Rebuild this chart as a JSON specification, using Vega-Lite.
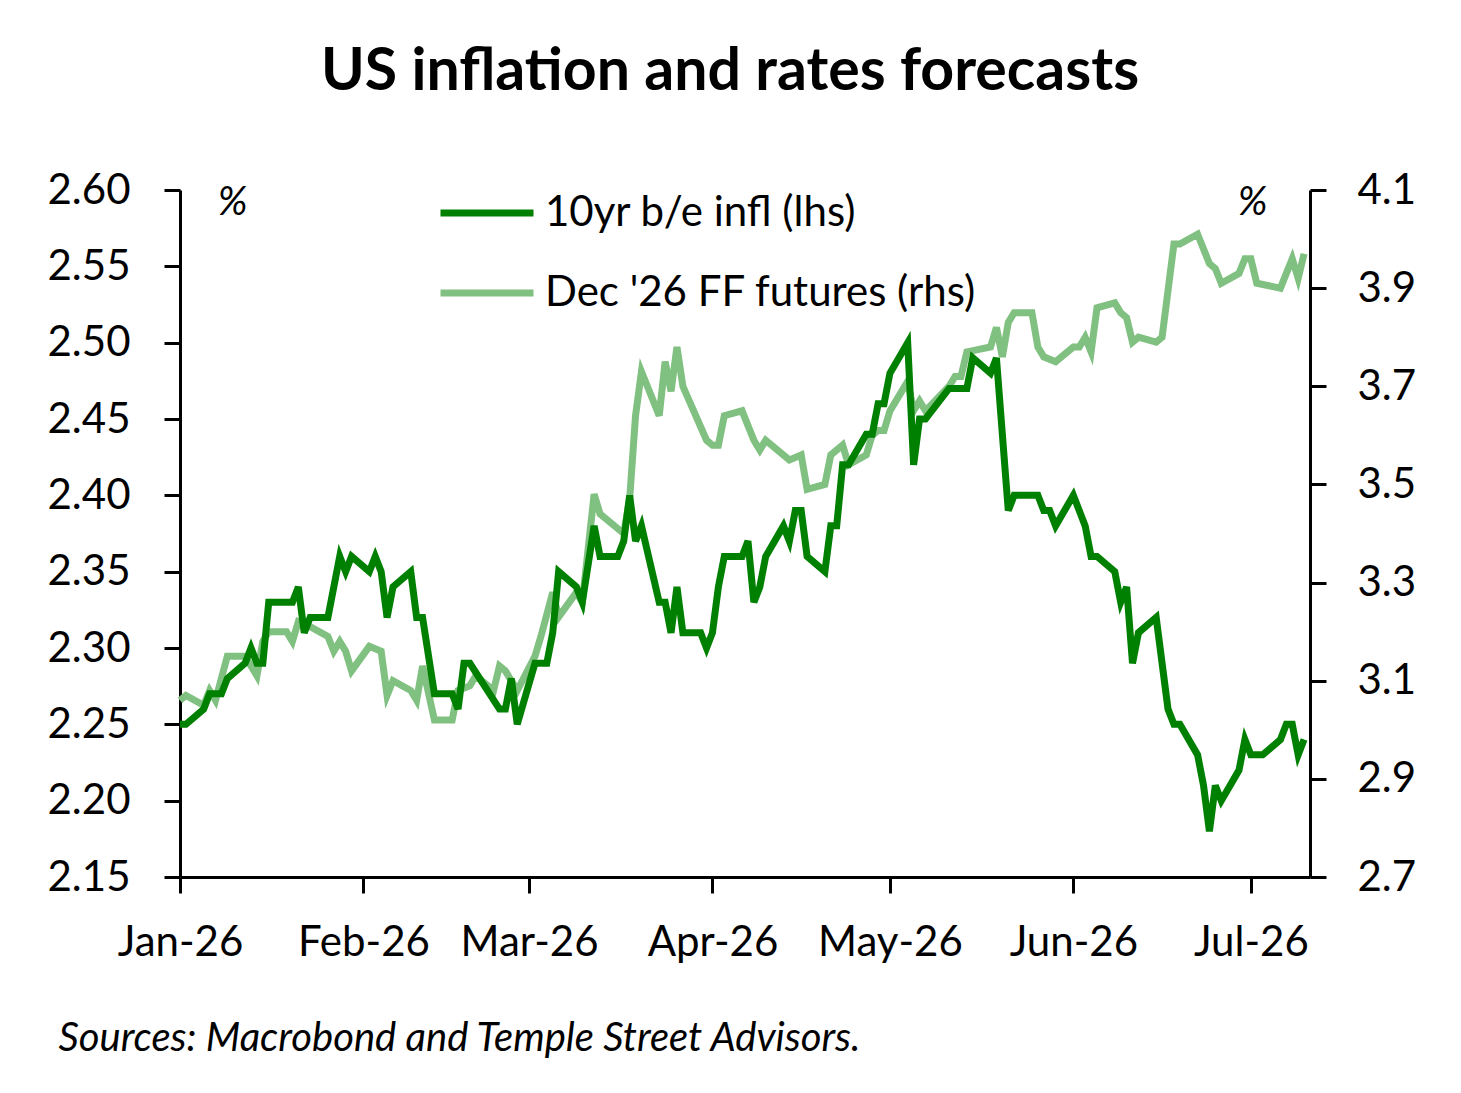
{
  "$schema": "https://vega.github.io/schema/vega-lite/v6.json",
  "width": 1130,
  "height": 687,
  "autosize": {"type": "none"},
  "padding": {"left": 180, "top": 190, "right": 151, "bottom": 216},
  "background": "white",
  "config": {
    "view": {"stroke": null},
    "font": "Lato",
    "axis": {
      "grid": false,
      "domainColor": "black",
      "domainWidth": 3,
      "tickColor": "black",
      "tickWidth": 3,
      "tickSize": 16,
      "labelFont": "Lato",
      "labelFontSize": 42,
      "labelColor": "black",
      "titleFont": "Lato",
      "titleColor": "black"
    }
  },
  "title": {
    "text": "US inflation and rates forecasts",
    "font": "Lato",
    "fontSize": 59,
    "fontWeight": "bold",
    "color": "black",
    "anchor": "middle",
    "frame": "group",
    "baseline": "alphabetic",
    "offset": 14,
    "dx": -15
  },
  "datasets": {
    "be": [
      {"date": "2026-01-01", "series": "10yr b/e infl (lhs)", "value": 2.25},
      {"date": "2026-01-02", "series": "10yr b/e infl (lhs)", "value": 2.25},
      {"date": "2026-01-05", "series": "10yr b/e infl (lhs)", "value": 2.26},
      {"date": "2026-01-06", "series": "10yr b/e infl (lhs)", "value": 2.27},
      {"date": "2026-01-08", "series": "10yr b/e infl (lhs)", "value": 2.27},
      {"date": "2026-01-09", "series": "10yr b/e infl (lhs)", "value": 2.28},
      {"date": "2026-01-12", "series": "10yr b/e infl (lhs)", "value": 2.29},
      {"date": "2026-01-13", "series": "10yr b/e infl (lhs)", "value": 2.30},
      {"date": "2026-01-14", "series": "10yr b/e infl (lhs)", "value": 2.29},
      {"date": "2026-01-15", "series": "10yr b/e infl (lhs)", "value": 2.29},
      {"date": "2026-01-16", "series": "10yr b/e infl (lhs)", "value": 2.33},
      {"date": "2026-01-20", "series": "10yr b/e infl (lhs)", "value": 2.33},
      {"date": "2026-01-21", "series": "10yr b/e infl (lhs)", "value": 2.34},
      {"date": "2026-01-22", "series": "10yr b/e infl (lhs)", "value": 2.31},
      {"date": "2026-01-23", "series": "10yr b/e infl (lhs)", "value": 2.32},
      {"date": "2026-01-26", "series": "10yr b/e infl (lhs)", "value": 2.32},
      {"date": "2026-01-28", "series": "10yr b/e infl (lhs)", "value": 2.36},
      {"date": "2026-01-29", "series": "10yr b/e infl (lhs)", "value": 2.35},
      {"date": "2026-01-30", "series": "10yr b/e infl (lhs)", "value": 2.36},
      {"date": "2026-02-02", "series": "10yr b/e infl (lhs)", "value": 2.35},
      {"date": "2026-02-03", "series": "10yr b/e infl (lhs)", "value": 2.36},
      {"date": "2026-02-04", "series": "10yr b/e infl (lhs)", "value": 2.35},
      {"date": "2026-02-05", "series": "10yr b/e infl (lhs)", "value": 2.32},
      {"date": "2026-02-06", "series": "10yr b/e infl (lhs)", "value": 2.34},
      {"date": "2026-02-09", "series": "10yr b/e infl (lhs)", "value": 2.35},
      {"date": "2026-02-10", "series": "10yr b/e infl (lhs)", "value": 2.32},
      {"date": "2026-02-11", "series": "10yr b/e infl (lhs)", "value": 2.32},
      {"date": "2026-02-13", "series": "10yr b/e infl (lhs)", "value": 2.27},
      {"date": "2026-02-16", "series": "10yr b/e infl (lhs)", "value": 2.27},
      {"date": "2026-02-17", "series": "10yr b/e infl (lhs)", "value": 2.26},
      {"date": "2026-02-18", "series": "10yr b/e infl (lhs)", "value": 2.29},
      {"date": "2026-02-19", "series": "10yr b/e infl (lhs)", "value": 2.29},
      {"date": "2026-02-24", "series": "10yr b/e infl (lhs)", "value": 2.26},
      {"date": "2026-02-25", "series": "10yr b/e infl (lhs)", "value": 2.26},
      {"date": "2026-02-26", "series": "10yr b/e infl (lhs)", "value": 2.28},
      {"date": "2026-02-27", "series": "10yr b/e infl (lhs)", "value": 2.25},
      {"date": "2026-03-02", "series": "10yr b/e infl (lhs)", "value": 2.29},
      {"date": "2026-03-04", "series": "10yr b/e infl (lhs)", "value": 2.29},
      {"date": "2026-03-05", "series": "10yr b/e infl (lhs)", "value": 2.31},
      {"date": "2026-03-06", "series": "10yr b/e infl (lhs)", "value": 2.35},
      {"date": "2026-03-09", "series": "10yr b/e infl (lhs)", "value": 2.34},
      {"date": "2026-03-10", "series": "10yr b/e infl (lhs)", "value": 2.33},
      {"date": "2026-03-12", "series": "10yr b/e infl (lhs)", "value": 2.38},
      {"date": "2026-03-13", "series": "10yr b/e infl (lhs)", "value": 2.36},
      {"date": "2026-03-16", "series": "10yr b/e infl (lhs)", "value": 2.36},
      {"date": "2026-03-17", "series": "10yr b/e infl (lhs)", "value": 2.37},
      {"date": "2026-03-18", "series": "10yr b/e infl (lhs)", "value": 2.40},
      {"date": "2026-03-19", "series": "10yr b/e infl (lhs)", "value": 2.37},
      {"date": "2026-03-20", "series": "10yr b/e infl (lhs)", "value": 2.38},
      {"date": "2026-03-23", "series": "10yr b/e infl (lhs)", "value": 2.33},
      {"date": "2026-03-24", "series": "10yr b/e infl (lhs)", "value": 2.33},
      {"date": "2026-03-25", "series": "10yr b/e infl (lhs)", "value": 2.31},
      {"date": "2026-03-26", "series": "10yr b/e infl (lhs)", "value": 2.34},
      {"date": "2026-03-27", "series": "10yr b/e infl (lhs)", "value": 2.31},
      {"date": "2026-03-30", "series": "10yr b/e infl (lhs)", "value": 2.31},
      {"date": "2026-03-31", "series": "10yr b/e infl (lhs)", "value": 2.30},
      {"date": "2026-04-01", "series": "10yr b/e infl (lhs)", "value": 2.31},
      {"date": "2026-04-02", "series": "10yr b/e infl (lhs)", "value": 2.34},
      {"date": "2026-04-03", "series": "10yr b/e infl (lhs)", "value": 2.36},
      {"date": "2026-04-06", "series": "10yr b/e infl (lhs)", "value": 2.36},
      {"date": "2026-04-07", "series": "10yr b/e infl (lhs)", "value": 2.37},
      {"date": "2026-04-08", "series": "10yr b/e infl (lhs)", "value": 2.33},
      {"date": "2026-04-09", "series": "10yr b/e infl (lhs)", "value": 2.34},
      {"date": "2026-04-10", "series": "10yr b/e infl (lhs)", "value": 2.36},
      {"date": "2026-04-13", "series": "10yr b/e infl (lhs)", "value": 2.38},
      {"date": "2026-04-14", "series": "10yr b/e infl (lhs)", "value": 2.37},
      {"date": "2026-04-15", "series": "10yr b/e infl (lhs)", "value": 2.39},
      {"date": "2026-04-16", "series": "10yr b/e infl (lhs)", "value": 2.39},
      {"date": "2026-04-17", "series": "10yr b/e infl (lhs)", "value": 2.36},
      {"date": "2026-04-20", "series": "10yr b/e infl (lhs)", "value": 2.35},
      {"date": "2026-04-21", "series": "10yr b/e infl (lhs)", "value": 2.38},
      {"date": "2026-04-22", "series": "10yr b/e infl (lhs)", "value": 2.38},
      {"date": "2026-04-23", "series": "10yr b/e infl (lhs)", "value": 2.42},
      {"date": "2026-04-24", "series": "10yr b/e infl (lhs)", "value": 2.42},
      {"date": "2026-04-27", "series": "10yr b/e infl (lhs)", "value": 2.44},
      {"date": "2026-04-28", "series": "10yr b/e infl (lhs)", "value": 2.44},
      {"date": "2026-04-29", "series": "10yr b/e infl (lhs)", "value": 2.46},
      {"date": "2026-04-30", "series": "10yr b/e infl (lhs)", "value": 2.46},
      {"date": "2026-05-01", "series": "10yr b/e infl (lhs)", "value": 2.48},
      {"date": "2026-05-04", "series": "10yr b/e infl (lhs)", "value": 2.50},
      {"date": "2026-05-05", "series": "10yr b/e infl (lhs)", "value": 2.42},
      {"date": "2026-05-06", "series": "10yr b/e infl (lhs)", "value": 2.45},
      {"date": "2026-05-07", "series": "10yr b/e infl (lhs)", "value": 2.45},
      {"date": "2026-05-11", "series": "10yr b/e infl (lhs)", "value": 2.47},
      {"date": "2026-05-14", "series": "10yr b/e infl (lhs)", "value": 2.47},
      {"date": "2026-05-15", "series": "10yr b/e infl (lhs)", "value": 2.49},
      {"date": "2026-05-18", "series": "10yr b/e infl (lhs)", "value": 2.48},
      {"date": "2026-05-19", "series": "10yr b/e infl (lhs)", "value": 2.49},
      {"date": "2026-05-21", "series": "10yr b/e infl (lhs)", "value": 2.39},
      {"date": "2026-05-22", "series": "10yr b/e infl (lhs)", "value": 2.40},
      {"date": "2026-05-26", "series": "10yr b/e infl (lhs)", "value": 2.40},
      {"date": "2026-05-27", "series": "10yr b/e infl (lhs)", "value": 2.39},
      {"date": "2026-05-28", "series": "10yr b/e infl (lhs)", "value": 2.39},
      {"date": "2026-05-29", "series": "10yr b/e infl (lhs)", "value": 2.38},
      {"date": "2026-06-01", "series": "10yr b/e infl (lhs)", "value": 2.40},
      {"date": "2026-06-03", "series": "10yr b/e infl (lhs)", "value": 2.38},
      {"date": "2026-06-04", "series": "10yr b/e infl (lhs)", "value": 2.36},
      {"date": "2026-06-05", "series": "10yr b/e infl (lhs)", "value": 2.36},
      {"date": "2026-06-08", "series": "10yr b/e infl (lhs)", "value": 2.35},
      {"date": "2026-06-09", "series": "10yr b/e infl (lhs)", "value": 2.33},
      {"date": "2026-06-10", "series": "10yr b/e infl (lhs)", "value": 2.34},
      {"date": "2026-06-11", "series": "10yr b/e infl (lhs)", "value": 2.29},
      {"date": "2026-06-12", "series": "10yr b/e infl (lhs)", "value": 2.31},
      {"date": "2026-06-15", "series": "10yr b/e infl (lhs)", "value": 2.32},
      {"date": "2026-06-17", "series": "10yr b/e infl (lhs)", "value": 2.26},
      {"date": "2026-06-18", "series": "10yr b/e infl (lhs)", "value": 2.25},
      {"date": "2026-06-19", "series": "10yr b/e infl (lhs)", "value": 2.25},
      {"date": "2026-06-22", "series": "10yr b/e infl (lhs)", "value": 2.23},
      {"date": "2026-06-23", "series": "10yr b/e infl (lhs)", "value": 2.21},
      {"date": "2026-06-24", "series": "10yr b/e infl (lhs)", "value": 2.18},
      {"date": "2026-06-25", "series": "10yr b/e infl (lhs)", "value": 2.21},
      {"date": "2026-06-26", "series": "10yr b/e infl (lhs)", "value": 2.20},
      {"date": "2026-06-29", "series": "10yr b/e infl (lhs)", "value": 2.22},
      {"date": "2026-06-30", "series": "10yr b/e infl (lhs)", "value": 2.24},
      {"date": "2026-07-01", "series": "10yr b/e infl (lhs)", "value": 2.23},
      {"date": "2026-07-03", "series": "10yr b/e infl (lhs)", "value": 2.23},
      {"date": "2026-07-06", "series": "10yr b/e infl (lhs)", "value": 2.24},
      {"date": "2026-07-07", "series": "10yr b/e infl (lhs)", "value": 2.25},
      {"date": "2026-07-08", "series": "10yr b/e infl (lhs)", "value": 2.25},
      {"date": "2026-07-09", "series": "10yr b/e infl (lhs)", "value": 2.23},
      {"date": "2026-07-10", "series": "10yr b/e infl (lhs)", "value": 2.24}
    ],
    "ff": [
      {"date": "2026-01-01", "series": "Dec '26 FF futures (rhs)", "value": 3.06},
      {"date": "2026-01-02", "series": "Dec '26 FF futures (rhs)", "value": 3.07},
      {"date": "2026-01-05", "series": "Dec '26 FF futures (rhs)", "value": 3.05},
      {"date": "2026-01-06", "series": "Dec '26 FF futures (rhs)", "value": 3.08},
      {"date": "2026-01-07", "series": "Dec '26 FF futures (rhs)", "value": 3.06},
      {"date": "2026-01-09", "series": "Dec '26 FF futures (rhs)", "value": 3.15},
      {"date": "2026-01-12", "series": "Dec '26 FF futures (rhs)", "value": 3.15},
      {"date": "2026-01-13", "series": "Dec '26 FF futures (rhs)", "value": 3.13},
      {"date": "2026-01-14", "series": "Dec '26 FF futures (rhs)", "value": 3.11},
      {"date": "2026-01-15", "series": "Dec '26 FF futures (rhs)", "value": 3.18},
      {"date": "2026-01-16", "series": "Dec '26 FF futures (rhs)", "value": 3.20},
      {"date": "2026-01-19", "series": "Dec '26 FF futures (rhs)", "value": 3.20},
      {"date": "2026-01-20", "series": "Dec '26 FF futures (rhs)", "value": 3.18},
      {"date": "2026-01-21", "series": "Dec '26 FF futures (rhs)", "value": 3.22},
      {"date": "2026-01-23", "series": "Dec '26 FF futures (rhs)", "value": 3.21},
      {"date": "2026-01-26", "series": "Dec '26 FF futures (rhs)", "value": 3.19},
      {"date": "2026-01-27", "series": "Dec '26 FF futures (rhs)", "value": 3.16},
      {"date": "2026-01-28", "series": "Dec '26 FF futures (rhs)", "value": 3.18},
      {"date": "2026-01-29", "series": "Dec '26 FF futures (rhs)", "value": 3.16},
      {"date": "2026-01-30", "series": "Dec '26 FF futures (rhs)", "value": 3.12},
      {"date": "2026-02-02", "series": "Dec '26 FF futures (rhs)", "value": 3.17},
      {"date": "2026-02-04", "series": "Dec '26 FF futures (rhs)", "value": 3.16},
      {"date": "2026-02-05", "series": "Dec '26 FF futures (rhs)", "value": 3.07},
      {"date": "2026-02-06", "series": "Dec '26 FF futures (rhs)", "value": 3.10},
      {"date": "2026-02-09", "series": "Dec '26 FF futures (rhs)", "value": 3.08},
      {"date": "2026-02-10", "series": "Dec '26 FF futures (rhs)", "value": 3.06},
      {"date": "2026-02-11", "series": "Dec '26 FF futures (rhs)", "value": 3.13},
      {"date": "2026-02-13", "series": "Dec '26 FF futures (rhs)", "value": 3.02},
      {"date": "2026-02-16", "series": "Dec '26 FF futures (rhs)", "value": 3.02},
      {"date": "2026-02-17", "series": "Dec '26 FF futures (rhs)", "value": 3.08},
      {"date": "2026-02-19", "series": "Dec '26 FF futures (rhs)", "value": 3.09},
      {"date": "2026-02-20", "series": "Dec '26 FF futures (rhs)", "value": 3.11},
      {"date": "2026-02-23", "series": "Dec '26 FF futures (rhs)", "value": 3.08},
      {"date": "2026-02-24", "series": "Dec '26 FF futures (rhs)", "value": 3.13},
      {"date": "2026-02-25", "series": "Dec '26 FF futures (rhs)", "value": 3.12},
      {"date": "2026-02-27", "series": "Dec '26 FF futures (rhs)", "value": 3.08},
      {"date": "2026-03-02", "series": "Dec '26 FF futures (rhs)", "value": 3.15},
      {"date": "2026-03-03", "series": "Dec '26 FF futures (rhs)", "value": 3.19},
      {"date": "2026-03-05", "series": "Dec '26 FF futures (rhs)", "value": 3.28},
      {"date": "2026-03-06", "series": "Dec '26 FF futures (rhs)", "value": 3.23},
      {"date": "2026-03-09", "series": "Dec '26 FF futures (rhs)", "value": 3.28},
      {"date": "2026-03-10", "series": "Dec '26 FF futures (rhs)", "value": 3.26},
      {"date": "2026-03-12", "series": "Dec '26 FF futures (rhs)", "value": 3.48},
      {"date": "2026-03-13", "series": "Dec '26 FF futures (rhs)", "value": 3.44},
      {"date": "2026-03-16", "series": "Dec '26 FF futures (rhs)", "value": 3.41},
      {"date": "2026-03-17", "series": "Dec '26 FF futures (rhs)", "value": 3.40},
      {"date": "2026-03-18", "series": "Dec '26 FF futures (rhs)", "value": 3.47},
      {"date": "2026-03-19", "series": "Dec '26 FF futures (rhs)", "value": 3.64},
      {"date": "2026-03-20", "series": "Dec '26 FF futures (rhs)", "value": 3.73},
      {"date": "2026-03-23", "series": "Dec '26 FF futures (rhs)", "value": 3.64},
      {"date": "2026-03-24", "series": "Dec '26 FF futures (rhs)", "value": 3.75},
      {"date": "2026-03-25", "series": "Dec '26 FF futures (rhs)", "value": 3.69},
      {"date": "2026-03-26", "series": "Dec '26 FF futures (rhs)", "value": 3.78},
      {"date": "2026-03-27", "series": "Dec '26 FF futures (rhs)", "value": 3.70},
      {"date": "2026-03-31", "series": "Dec '26 FF futures (rhs)", "value": 3.59},
      {"date": "2026-04-01", "series": "Dec '26 FF futures (rhs)", "value": 3.58},
      {"date": "2026-04-02", "series": "Dec '26 FF futures (rhs)", "value": 3.58},
      {"date": "2026-04-03", "series": "Dec '26 FF futures (rhs)", "value": 3.64},
      {"date": "2026-04-06", "series": "Dec '26 FF futures (rhs)", "value": 3.65},
      {"date": "2026-04-08", "series": "Dec '26 FF futures (rhs)", "value": 3.59},
      {"date": "2026-04-09", "series": "Dec '26 FF futures (rhs)", "value": 3.57},
      {"date": "2026-04-10", "series": "Dec '26 FF futures (rhs)", "value": 3.59},
      {"date": "2026-04-14", "series": "Dec '26 FF futures (rhs)", "value": 3.55},
      {"date": "2026-04-16", "series": "Dec '26 FF futures (rhs)", "value": 3.56},
      {"date": "2026-04-17", "series": "Dec '26 FF futures (rhs)", "value": 3.49},
      {"date": "2026-04-20", "series": "Dec '26 FF futures (rhs)", "value": 3.50},
      {"date": "2026-04-21", "series": "Dec '26 FF futures (rhs)", "value": 3.56},
      {"date": "2026-04-23", "series": "Dec '26 FF futures (rhs)", "value": 3.58},
      {"date": "2026-04-24", "series": "Dec '26 FF futures (rhs)", "value": 3.54},
      {"date": "2026-04-27", "series": "Dec '26 FF futures (rhs)", "value": 3.56},
      {"date": "2026-04-28", "series": "Dec '26 FF futures (rhs)", "value": 3.60},
      {"date": "2026-04-29", "series": "Dec '26 FF futures (rhs)", "value": 3.61},
      {"date": "2026-04-30", "series": "Dec '26 FF futures (rhs)", "value": 3.61},
      {"date": "2026-05-01", "series": "Dec '26 FF futures (rhs)", "value": 3.65},
      {"date": "2026-05-04", "series": "Dec '26 FF futures (rhs)", "value": 3.71},
      {"date": "2026-05-05", "series": "Dec '26 FF futures (rhs)", "value": 3.65},
      {"date": "2026-05-06", "series": "Dec '26 FF futures (rhs)", "value": 3.67},
      {"date": "2026-05-07", "series": "Dec '26 FF futures (rhs)", "value": 3.65},
      {"date": "2026-05-11", "series": "Dec '26 FF futures (rhs)", "value": 3.70},
      {"date": "2026-05-12", "series": "Dec '26 FF futures (rhs)", "value": 3.72},
      {"date": "2026-05-13", "series": "Dec '26 FF futures (rhs)", "value": 3.72},
      {"date": "2026-05-14", "series": "Dec '26 FF futures (rhs)", "value": 3.77},
      {"date": "2026-05-18", "series": "Dec '26 FF futures (rhs)", "value": 3.78},
      {"date": "2026-05-19", "series": "Dec '26 FF futures (rhs)", "value": 3.82},
      {"date": "2026-05-20", "series": "Dec '26 FF futures (rhs)", "value": 3.76},
      {"date": "2026-05-21", "series": "Dec '26 FF futures (rhs)", "value": 3.83},
      {"date": "2026-05-22", "series": "Dec '26 FF futures (rhs)", "value": 3.85},
      {"date": "2026-05-25", "series": "Dec '26 FF futures (rhs)", "value": 3.85},
      {"date": "2026-05-26", "series": "Dec '26 FF futures (rhs)", "value": 3.78},
      {"date": "2026-05-27", "series": "Dec '26 FF futures (rhs)", "value": 3.76},
      {"date": "2026-05-29", "series": "Dec '26 FF futures (rhs)", "value": 3.75},
      {"date": "2026-06-01", "series": "Dec '26 FF futures (rhs)", "value": 3.78},
      {"date": "2026-06-02", "series": "Dec '26 FF futures (rhs)", "value": 3.78},
      {"date": "2026-06-03", "series": "Dec '26 FF futures (rhs)", "value": 3.80},
      {"date": "2026-06-04", "series": "Dec '26 FF futures (rhs)", "value": 3.77},
      {"date": "2026-06-05", "series": "Dec '26 FF futures (rhs)", "value": 3.86},
      {"date": "2026-06-08", "series": "Dec '26 FF futures (rhs)", "value": 3.87},
      {"date": "2026-06-09", "series": "Dec '26 FF futures (rhs)", "value": 3.85},
      {"date": "2026-06-10", "series": "Dec '26 FF futures (rhs)", "value": 3.84},
      {"date": "2026-06-11", "series": "Dec '26 FF futures (rhs)", "value": 3.79},
      {"date": "2026-06-12", "series": "Dec '26 FF futures (rhs)", "value": 3.80},
      {"date": "2026-06-15", "series": "Dec '26 FF futures (rhs)", "value": 3.79},
      {"date": "2026-06-16", "series": "Dec '26 FF futures (rhs)", "value": 3.80},
      {"date": "2026-06-18", "series": "Dec '26 FF futures (rhs)", "value": 3.99},
      {"date": "2026-06-19", "series": "Dec '26 FF futures (rhs)", "value": 3.99},
      {"date": "2026-06-22", "series": "Dec '26 FF futures (rhs)", "value": 4.01},
      {"date": "2026-06-24", "series": "Dec '26 FF futures (rhs)", "value": 3.95},
      {"date": "2026-06-25", "series": "Dec '26 FF futures (rhs)", "value": 3.94},
      {"date": "2026-06-26", "series": "Dec '26 FF futures (rhs)", "value": 3.91},
      {"date": "2026-06-29", "series": "Dec '26 FF futures (rhs)", "value": 3.93},
      {"date": "2026-06-30", "series": "Dec '26 FF futures (rhs)", "value": 3.96},
      {"date": "2026-07-01", "series": "Dec '26 FF futures (rhs)", "value": 3.96},
      {"date": "2026-07-02", "series": "Dec '26 FF futures (rhs)", "value": 3.91},
      {"date": "2026-07-06", "series": "Dec '26 FF futures (rhs)", "value": 3.90},
      {"date": "2026-07-08", "series": "Dec '26 FF futures (rhs)", "value": 3.96},
      {"date": "2026-07-09", "series": "Dec '26 FF futures (rhs)", "value": 3.92},
      {"date": "2026-07-10", "series": "Dec '26 FF futures (rhs)", "value": 3.97}
    ]
  },
  "encoding": {
    "x": {
      "field": "date",
      "type": "temporal",
      "scale": {
        "type": "utc",
        "domain": [
          {"year": 2026, "month": 1, "date": 1, "utc": true},
          {"year": 2026, "month": 7, "date": 11, "utc": true}
        ]
      },
      "axis": {
        "values": [
          {"year": 2026, "month": 1, "date": 1, "utc": true},
          {"year": 2026, "month": 2, "date": 1, "utc": true},
          {"year": 2026, "month": 3, "date": 1, "utc": true},
          {"year": 2026, "month": 4, "date": 1, "utc": true},
          {"year": 2026, "month": 5, "date": 1, "utc": true},
          {"year": 2026, "month": 6, "date": 1, "utc": true},
          {"year": 2026, "month": 7, "date": 1, "utc": true}
        ],
        "labelExpr": "utcFormat(datum.value, '%b-%y')",
        "labelPadding": 29,
        "labelFlush": false,
        "labelOverlap": false,
        "title": "Sources: Macrobond and Temple Street Advisors.",
        "titleFontSize": 40,
        "titleFontStyle": "italic",
        "titleFontWeight": "normal",
        "titleAnchor": "start",
        "titleAlign": "left",
        "titleBaseline": "alphabetic",
        "titleX": -122,
        "titleY": 173
      }
    },
    "color": {
      "field": "series",
      "type": "nominal",
      "scale": {
        "domain": ["10yr b/e infl (lhs)", "Dec '26 FF futures (rhs)"],
        "range": ["#008000", "#80c080"]
      },
      "legend": {
        "title": null,
        "orient": "none",
        "legendX": 257,
        "legendY": -27,
        "symbolType": "stroke",
        "symbolSize": 8649,
        "symbolStrokeWidth": 7,
        "labelFont": "Lato",
        "labelFontSize": 42,
        "labelColor": "black",
        "labelOffset": 8,
        "labelLimit": 0,
        "rowPadding": 9
      }
    }
  },
  "layer": [
    {
      "data": {"name": "ff"},
      "mark": {"type": "line", "strokeWidth": 7},
      "encoding": {
        "y": {
          "field": "value",
          "type": "quantitative",
          "scale": {"domain": [2.7, 4.1], "nice": false, "zero": false},
          "axis": {
            "orient": "right",
            "values": [2.7, 2.9, 3.1, 3.3, 3.5, 3.7, 3.9, 4.1],
            "format": ".1f",
            "labelPadding": 31,
            "title": "%",
            "titleAngle": 0,
            "titleFontSize": 40,
            "titleFontStyle": "italic",
            "titleFontWeight": "normal",
            "titleAlign": "center",
            "titleBaseline": "middle",
            "titleX": -58,
            "titleY": 12
          }
        }
      }
    },
    {
      "data": {"name": "be"},
      "mark": {"type": "line", "strokeWidth": 7},
      "encoding": {
        "y": {
          "field": "value",
          "type": "quantitative",
          "scale": {"domain": [2.15, 2.6], "nice": false, "zero": false},
          "axis": {
            "orient": "left",
            "values": [2.15, 2.2, 2.25, 2.3, 2.35, 2.4, 2.45, 2.5, 2.55, 2.6],
            "format": ".2f",
            "labelPadding": 34,
            "title": "%",
            "titleAngle": 0,
            "titleFontSize": 40,
            "titleFontStyle": "italic",
            "titleFontWeight": "normal",
            "titleAlign": "center",
            "titleBaseline": "middle",
            "titleX": 52,
            "titleY": 12
          }
        }
      }
    }
  ],
  "resolve": {"scale": {"y": "independent"}}
}
